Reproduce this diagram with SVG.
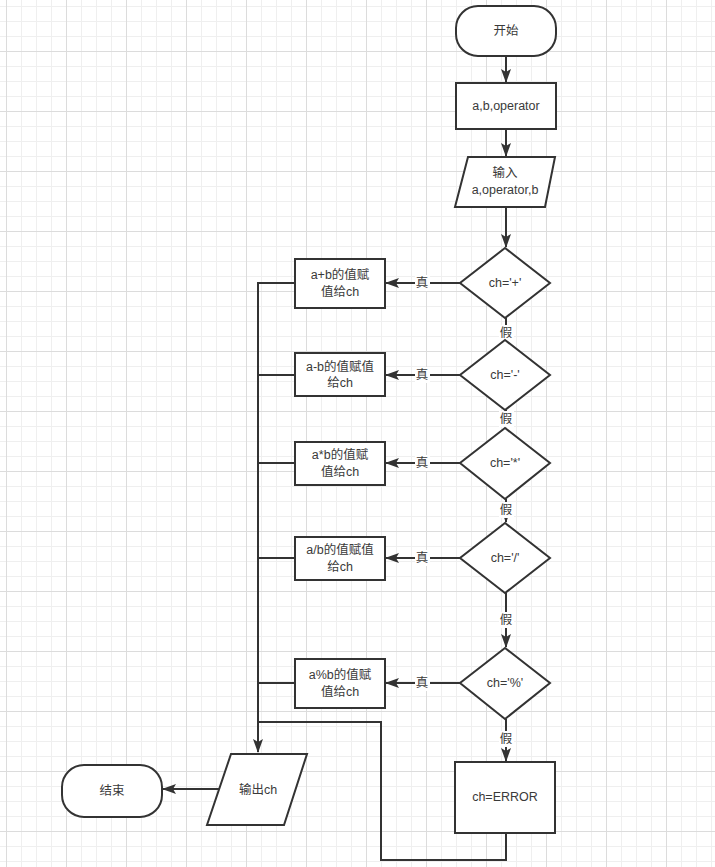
<svg xmlns="http://www.w3.org/2000/svg" width="715" height="867" viewBox="0 0 715 867">
<defs>
<pattern id="grid" x="6" y="51" width="60" height="60" patternUnits="userSpaceOnUse">
<path d="M15.5 0V60M30.5 0V60M45.5 0V60M0 15.5H60M0 30.5H60M0 45.5H60" stroke="#efefef" stroke-width="1" fill="none"/>
<path d="M0.5 0V60M0 0.5H60" stroke="#dcdcdc" stroke-width="1" fill="none"/>
</pattern>
<marker id="arr" markerWidth="14" markerHeight="10" refX="13" refY="5" orient="auto" markerUnits="userSpaceOnUse">
<path d="M0 0L14 5L0 10L3 5Z" fill="#333"/>
</marker>
<style>
.shape{fill:#fff;stroke:#333;stroke-width:2}
.line{fill:none;stroke:#333;stroke-width:2}
.t{font-family:"Liberation Sans","Noto Sans CJK SC",sans-serif;font-size:12.5px;fill:#3a3a3a;text-anchor:middle;dominant-baseline:central}
.lbl{fill:#fff}
</style>
</defs>
<rect width="715" height="867" fill="#fff"/>
<rect width="715" height="867" fill="url(#grid)"/>

<g id="connectors">
<path class="line" d="M506 57V82" marker-end="url(#arr)"/>
<path class="line" d="M506 129V156" marker-end="url(#arr)"/>
<path class="line" d="M506 207V247" marker-end="url(#arr)"/>
<path class="line" d="M460 283H386" marker-end="url(#arr)"/>
<path class="line" d="M460 375H386" marker-end="url(#arr)"/>
<path class="line" d="M460 463H386" marker-end="url(#arr)"/>
<path class="line" d="M460 558H386" marker-end="url(#arr)"/>
<path class="line" d="M460 683H386" marker-end="url(#arr)"/>
<path class="line" d="M506 318V339" marker-end="url(#arr)"/>
<path class="line" d="M506 410V427" marker-end="url(#arr)"/>
<path class="line" d="M506 499V522" marker-end="url(#arr)"/>
<path class="line" d="M506 593V647" marker-end="url(#arr)"/>
<path class="line" d="M506 719V761" marker-end="url(#arr)"/>
<path class="line" d="M295 283H258M295 375H258M295 463H258M295 558H258M295 683H258"/>
<path class="line" d="M258 282V752" marker-end="url(#arr)"/>
<path class="line" d="M506 833V860H381V722H258"/>
<path class="line" d="M219 789H163" marker-end="url(#arr)"/>
<rect class="lbl" x="415" y="275" width="15" height="16"/>
<text class="t" x="422" y="283">真</text>
<rect class="lbl" x="415" y="367" width="15" height="16"/>
<text class="t" x="422" y="375">真</text>
<rect class="lbl" x="415" y="455" width="15" height="16"/>
<text class="t" x="422" y="463">真</text>
<rect class="lbl" x="415" y="550" width="15" height="16"/>
<text class="t" x="422" y="558">真</text>
<rect class="lbl" x="415" y="675" width="15" height="16"/>
<text class="t" x="422" y="683">真</text>
<rect class="lbl" x="499" y="325" width="15" height="16"/>
<text class="t" x="506" y="333">假</text>
<rect class="lbl" x="499" y="411" width="15" height="16"/>
<text class="t" x="506" y="419">假</text>
<rect class="lbl" x="499" y="502" width="15" height="16"/>
<text class="t" x="506" y="510">假</text>
<rect class="lbl" x="499" y="612" width="15" height="16"/>
<text class="t" x="506" y="620">假</text>
<rect class="lbl" x="499" y="731" width="15" height="16"/>
<text class="t" x="506" y="739">假</text>
</g>

<g id="start">
<rect class="shape" x="456" y="6" width="100" height="50" rx="22"/>
<text class="t" x="506" y="31">开始</text>
</g>
<g id="declare">
<rect class="shape" x="456" y="83" width="100" height="46"/>
<text class="t" x="506" y="106">a,b,operator</text>
</g>
<g id="input">
<polygon class="shape" points="468,157 555,157 545,207 455,207"/>
<text class="t" x="505" y="173">输入</text>
<text class="t" x="505" y="190">a,operator,b</text>
</g>
<g id="d1">
<polygon class="shape" points="505,248 550,283 505,318 460,283"/>
<text class="t" x="505" y="283">ch='+'</text>
</g>
<g id="d2">
<polygon class="shape" points="505,340 550,375 505,410 460,375"/>
<text class="t" x="505" y="375">ch='-'</text>
</g>
<g id="d3">
<polygon class="shape" points="505,428 550,463 505,499 460,463"/>
<text class="t" x="505" y="463">ch='*'</text>
</g>
<g id="d4">
<polygon class="shape" points="505,523 550,558 505,593 460,558"/>
<text class="t" x="505" y="558">ch='/'</text>
</g>
<g id="d5">
<polygon class="shape" points="505,648 550,683 505,719 460,683"/>
<text class="t" x="505" y="683">ch='%'</text>
</g>
<g id="add">
<rect class="shape" x="295" y="259" width="90" height="49"/>
<text class="t" x="340" y="275">a+b的值赋</text>
<text class="t" x="340" y="292">值给ch</text>
</g>
<g id="sub">
<rect class="shape" x="295" y="353" width="90" height="43"/>
<text class="t" x="340" y="367">a-b的值赋值</text>
<text class="t" x="340" y="383">给ch</text>
</g>
<g id="mul">
<rect class="shape" x="295" y="442" width="90" height="43"/>
<text class="t" x="340" y="455">a*b的值赋</text>
<text class="t" x="340" y="472">值给ch</text>
</g>
<g id="div">
<rect class="shape" x="295" y="537" width="90" height="43"/>
<text class="t" x="340" y="550">a/b的值赋值</text>
<text class="t" x="340" y="567">给ch</text>
</g>
<g id="mod">
<rect class="shape" x="295" y="659" width="90" height="49"/>
<text class="t" x="340" y="675">a%b的值赋</text>
<text class="t" x="340" y="692">值给ch</text>
</g>
<g id="error">
<rect class="shape" x="455" y="762" width="100" height="71"/>
<text class="t" x="505" y="797">ch=ERROR</text>
</g>
<g id="output">
<polygon class="shape" points="231,754 307,754 284,825 207,825"/>
<text class="t" x="258" y="790">输出ch</text>
</g>
<g id="end">
<rect class="shape" x="62" y="765" width="100" height="52" rx="22"/>
<text class="t" x="112" y="791">结束</text>
</g>
</svg>
